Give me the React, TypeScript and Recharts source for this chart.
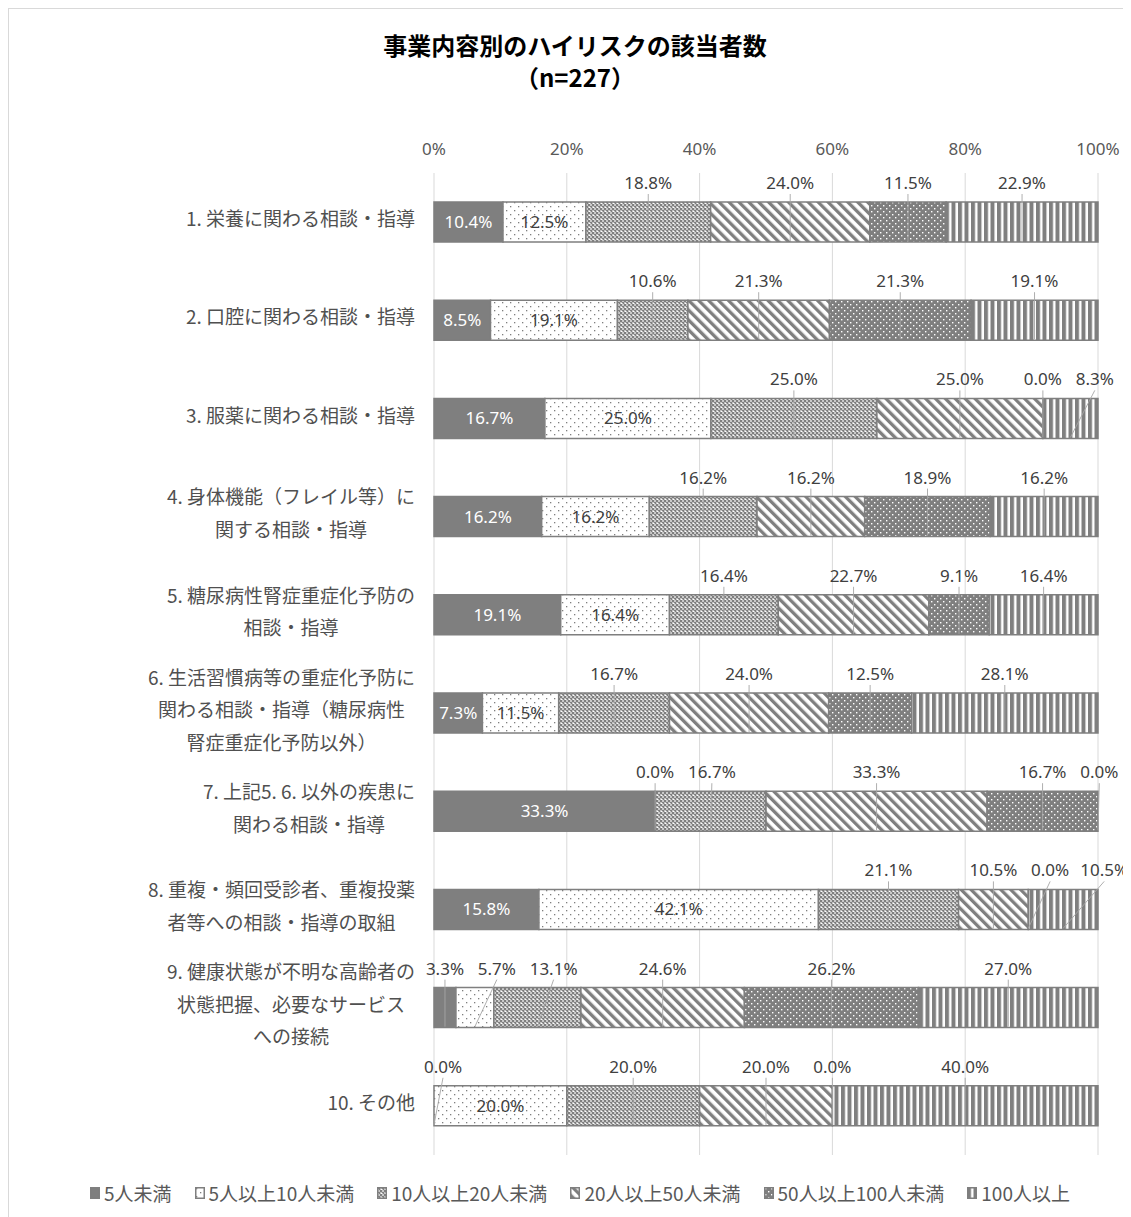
import React from 'react';
import { BarChart, Bar, XAxis, YAxis, CartesianGrid, LabelList } from 'recharts';

const categories = [
  '1. 栄養に関わる相談・指導',
  '2. 口腔に関わる相談・指導',
  '3. 服薬に関わる相談・指導',
  '4. 身体機能（フレイル等）に\n関する相談・指導',
  '5. 糖尿病性腎症重症化予防の\n相談・指導',
  '6. 生活習慣病等の重症化予防に\n関わる相談・指導（糖尿病性\n腎症重症化予防以外）',
  '7. 上記5. 6. 以外の疾患に\n関わる相談・指導',
  '8. 重複・頻回受診者、重複投薬\n者等への相談・指導の取組',
  '9. 健康状態が不明な高齢者の\n状態把握、必要なサービス\nへの接続',
  '10. その他',
];

const seriesNames = ['5人未満', '5人以上10人未満', '10人以上20人未満', '20人以上50人未満', '50人以上100人未満', '100人以上'];

const under5 = [10.4, 8.5, 16.7, 16.2, 19.1, 7.3, 33.3, 15.8, 3.3, 0.0];
const from5to10 = [12.5, 19.1, 25.0, 16.2, 16.4, 11.5, 0.0, 42.1, 5.7, 20.0];
const from10to20 = [18.8, 10.6, 25.0, 16.2, 16.4, 16.7, 16.7, 21.1, 13.1, 20.0];
const from20to50 = [24.0, 21.3, 25.0, 16.2, 22.7, 24.0, 33.3, 10.5, 24.6, 20.0];
const from50to100 = [11.5, 21.3, 0.0, 18.9, 9.1, 12.5, 16.7, 0.0, 26.2, 0.0];
const over100 = [22.9, 19.1, 8.3, 16.2, 16.4, 28.1, 0.0, 10.5, 27.0, 40.0];

const xTicks = [0, 0.2, 0.4, 0.6, 0.8, 1];

const series = [under5, from5to10, from10to20, from20to50, from50to100, over100];
const keys = ['s0', 's1', 's2', 's3', 's4', 's5'];
const fills = ['#7f7f7f', 'url(#pat1)', 'url(#pat2)', 'url(#pat3)', 'url(#pat4)', 'url(#pat5)'];

const data = categories.map((name, i) => {
  const row: any = { name };
  keys.forEach((k, s) => (row[k] = series[s][i]));
  return row;
});

// layout constants (chart geometry)
const CHART_W = 1122;
const CHART_H = 1200;
const PLOT_LEFT = 425;
const PLOT_W = 664;
const LABEL_FONT = 17;
const JP_FONT = '"Noto Sans CJK JP", "Noto Sans", sans-serif';
const NUM_FONT = '"Noto Sans", "DejaVu Sans", sans-serif';

const fmt = (v: number) => `${v.toFixed(1)}%`;
const textW = (t: string) => {
  let w = 0;
  for (const ch of t) {
    if (ch === '%') w += 13.9;
    else if (ch === '.') w += 4.6;
    else w += 9.7;
  }
  return w;
};

// label placement per row: inside or above (with simple collision avoidance)
const labelLayout = categories.map((_, i) => {
  const total = series.reduce((a, s) => a + s[i], 0);
  let cum = 0;
  const info: any[] = [];
  series.forEach((s, k) => {
    const v = s[i];
    const start = cum / total;
    const end = (cum + v) / total;
    cum += v;
    const inside = k <= 1 && v >= 7;
    info.push({ inside, start, end, center: (start + end) / 2, frac: (start + end) / 2, w: textW(fmt(v)), text: fmt(v) });
  });
  let prevX = -Infinity;
  let prevW = 0;
  info.forEach((it) => {
    if (it.inside) return;
    let px = it.center * PLOT_W;
    px = Math.max(px, 9);
    if (prevX > -Infinity) {
      const minD = (prevW + it.w) / 2 + 14;
      if (px - prevX < minD) px = prevX + minD;
    }
    it.frac = px / PLOT_W;
    prevX = px;
    prevW = it.w;
  });
  return info;
});

const lastNonZero = categories.map((_, i) => {
  let last = 0;
  series.forEach((s, k) => {
    if (s[i] > 0) last = k;
  });
  return last;
});

const makeLabel = (s: number) => (props: any) => {
  const vb = props.viewBox || {};
  const x = props.x ?? vb.x;
  const y = props.y ?? vb.y;
  const width = props.width ?? vb.width ?? 0;
  const height = props.height ?? vb.height ?? 0;
  const name = props.value ?? props.payload?.name;
  const i = categories.indexOf(name);
  if (i < 0 || x == null) return null;
  if (lastNonZero[i] !== s) return null;
  const info = labelLayout[i];
  const rowLeft = x + width - info[s].end * PLOT_W;
  const toPx = (f: number) => rowLeft + f * PLOT_W;
  return (
    <g>
      {info.map((it: any, k: number) => {
        const cx = toPx(it.center);
        if (it.inside) {
          return (
            <text key={k} x={cx} y={y + height / 2 + 6} textAnchor="middle" fill={k === 0 ? '#ffffff' : '#404040'} fontSize={LABEL_FONT} fontFamily={NUM_FONT}>
              {it.text}
            </text>
          );
        }
        const lx = Math.min(toPx(it.frac), CHART_W - 3 - it.w / 2);
        return (
          <g key={k}>
            <line x1={lx} y1={y - 8} x2={cx} y2={y + height - 1} stroke="#a6a6a6" strokeWidth={0.9} />
            <text x={lx} y={y - 13} textAnchor="middle" fill="#404040" fontSize={LABEL_FONT} fontFamily={NUM_FONT}>
              {it.text}
            </text>
          </g>
        );
      })}
    </g>
  );
};

const jpW = (t: string) => {
  let w = 0;
  for (const ch of t) {
    const c = ch.charCodeAt(0);
    if (c > 0x2000) w += 19;
    else if (ch === '.') w += 5;
    else if (ch === ' ') w += 4.5;
    else w += 10.5;
  }
  return w;
};

const CatTick = (props: any) => {
  const { x, y, payload } = props;
  const lines = String(payload.value).split('\n');
  const blockW = Math.max(...lines.map(jpW));
  const cx = x - blockW / 2;
  const n = lines.length;
  return (
    <g>
      {lines.map((ln, i) => (
        <text key={i} x={cx} y={y - 3 + (i - (n - 1) / 2) * 32.5 + 7} textAnchor="middle" fill="#505050" fontSize={19} fontFamily={JP_FONT}>
          {ln}
        </text>
      ))}
    </g>
  );
};

const Patterns = () => (
  <defs>
    <pattern id="pat1" width="8" height="8" patternUnits="userSpaceOnUse">
      <rect width="8" height="8" fill="#ffffff" />
      <rect x="1" y="1" width="1.3" height="1.3" fill="#7f7f7f" />
      <rect x="5" y="5" width="1.3" height="1.3" fill="#7f7f7f" />
    </pattern>
    <pattern id="pat2" width="4" height="4" patternUnits="userSpaceOnUse">
      <rect width="4" height="4" fill="#ffffff" />
      <path d="M0,0 L4,4 M4,0 L0,4" stroke="#7f7f7f" strokeWidth="1.3" />
    </pattern>
    <pattern id="pat3" width="7" height="7" patternUnits="userSpaceOnUse" patternTransform="rotate(-45)">
      <rect width="7" height="7" fill="#ffffff" />
      <rect width="3.3" height="7" fill="#7f7f7f" />
    </pattern>
    <pattern id="pat4" width="6" height="6" patternUnits="userSpaceOnUse">
      <rect width="6" height="6" fill="#7f7f7f" />
      <rect x="1" y="1" width="1.4" height="1.4" fill="#ffffff" />
      <rect x="4" y="4" width="1.4" height="1.4" fill="#ffffff" />
    </pattern>
    <pattern id="pat5" width="6.5" height="6" patternUnits="userSpaceOnUse">
      <rect width="6.5" height="6" fill="#ffffff" />
      <rect width="4" height="6" fill="#7f7f7f" />
    </pattern>
  </defs>
);

const LegendBox = () => (
  <div
    style={{
      position: 'absolute',
      left: 81,
      top: 1170,
      display: 'flex',
      alignItems: 'center',
      fontFamily: JP_FONT,
      fontSize: 19,
      color: '#595959',
      whiteSpace: 'nowrap',
    }}
  >
    {seriesNames.map((n, i) => (
      <div key={n} style={{ display: 'flex', alignItems: 'center', marginRight: 23 }}>
        <svg width={10} height={12} style={{ marginRight: 4 }}>
          <rect x={0.75} y={0.75} width={8.5} height={10.5} fill={fills[i]} stroke="#7f7f7f" strokeWidth={1.5} />
        </svg>
        <span>{n}</span>
      </div>
    ))}
  </div>
);

export default function App() {
  return (
    <div
      style={{
        position: 'relative',
        width: 1123,
        height: 1209,
        boxSizing: 'border-box',
        borderLeft: '1px solid #d9d9d9',
        borderTop: '1px solid #d9d9d9',
        background: '#ffffff',
        overflow: 'hidden',
      }}
    >
      <div
        style={{
          position: 'absolute',
          left: 266,
          width: 600,
          top: 20,
          textAlign: 'center',
          fontFamily: JP_FONT,
          fontWeight: 700,
          fontSize: 24,
          lineHeight: '32px',
          color: '#000000',
        }}
      >
        <div>事業内容別のハイリスクの該当者数</div>
        <div>（n=227）</div>
      </div>
      <div style={{ position: 'absolute', left: 0, top: 0 }}>
        <BarChart
          width={CHART_W}
          height={CHART_H}
          data={data}
          layout="vertical"
          stackOffset="expand"
          barSize={40}
          margin={{ top: 134, right: CHART_W - PLOT_LEFT - PLOT_W, bottom: 54, left: 0 }}
        >
          <Patterns />
          <CartesianGrid horizontal={false} stroke="#d9d9d9" />
          <XAxis
            type="number"
            orientation="top"
            domain={[0, 1]}
            ticks={xTicks}
            tickFormatter={(v: number) => `${Math.round(v * 100)}%`}
            axisLine={false}
            tickLine={false}
            tickSize={0}
            tickMargin={18}
            height={30}
            tick={{ fill: '#595959', fontSize: 17, fontFamily: NUM_FONT }}
          />
          <YAxis
            type="category"
            dataKey="name"
            width={PLOT_LEFT}
            axisLine={false}
            tickLine={false}
            tickSize={0}
            tickMargin={19}
            interval={0}
            tick={<CatTick />}
          />
          {keys.map((k, s) => (
            <Bar key={k} dataKey={k} stackId="a" fill={fills[s]} stroke="#7f7f7f" strokeWidth={1.5} isAnimationActive={false}>
              <LabelList dataKey="name" content={makeLabel(s)} />
            </Bar>
          ))}
        </BarChart>
      </div>
      <LegendBox />
    </div>
  );
}
